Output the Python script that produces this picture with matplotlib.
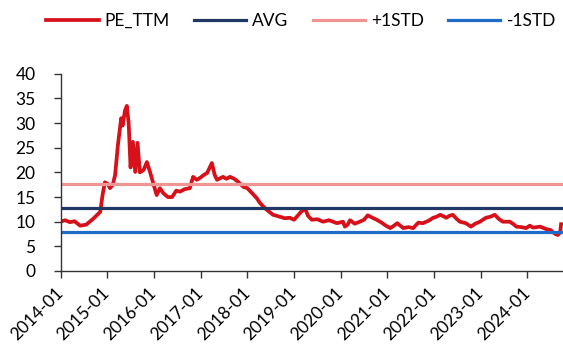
import numpy as np
import matplotlib
matplotlib.use('Agg')
import matplotlib.pyplot as plt
import matplotlib.dates as mdates
from datetime import datetime, timedelta

plt.rcParams['font.family'] = ['Lato', 'DejaVu Sans']

# PE_TTM (decimal year, value)
years = [2014.00, 2014.10, 2014.20, 2014.30, 2014.42, 2014.55, 2014.70, 2014.85, 2014.90, 2014.95,
         2015.02, 2015.06, 2015.12, 2015.17, 2015.23, 2015.30, 2015.33, 2015.38, 2015.42, 2015.46,
         2015.50, 2015.55, 2015.60, 2015.65, 2015.70, 2015.78, 2015.85, 2015.92, 2015.98, 2016.06,
         2016.13, 2016.20, 2016.30, 2016.39, 2016.48, 2016.56, 2016.66, 2016.77, 2016.84, 2016.92,
         2016.99, 2017.07, 2017.14, 2017.24, 2017.30, 2017.35, 2017.48, 2017.55, 2017.63, 2017.72,
         2017.80, 2017.91, 2018.00, 2018.10, 2018.20, 2018.27, 2018.35, 2018.42, 2018.55, 2018.70,
         2018.80, 2018.91, 2019.00, 2019.06, 2019.15, 2019.24, 2019.30, 2019.38, 2019.50, 2019.62,
         2019.75, 2019.92, 2020.05, 2020.09, 2020.15, 2020.20, 2020.30, 2020.41, 2020.50, 2020.58,
         2020.68, 2020.77, 2020.88, 2020.95, 2021.06, 2021.14, 2021.21, 2021.30, 2021.34, 2021.45,
         2021.55, 2021.66, 2021.76, 2021.88, 2021.98, 2022.05, 2022.13, 2022.20, 2022.26, 2022.33,
         2022.40, 2022.48, 2022.55, 2022.68, 2022.79, 2022.88, 2022.98, 2023.11, 2023.20, 2023.30,
         2023.38, 2023.47, 2023.62, 2023.70, 2023.76, 2023.87, 2023.97, 2024.05, 2024.12, 2024.27,
         2024.40, 2024.50, 2024.54, 2024.60, 2024.65, 2024.70, 2024.72]
pe = [10.0, 10.3, 9.9, 10.1, 9.2, 9.4, 10.6, 12.0, 15.4, 18.0,
      17.6, 16.8, 17.5, 19.5, 25.6, 31.0, 29.5, 32.5, 33.5, 30.0,
      21.0, 26.2, 20.1, 26.0, 20.0, 20.5, 22.1, 20.0, 18.0, 15.4,
      16.8, 15.8, 15.0, 15.0, 16.3, 16.1, 16.6, 16.8, 19.1, 18.5,
      18.9, 19.5, 19.9, 21.9, 19.5, 18.5, 19.1, 18.7, 19.1, 18.7,
      18.1, 17.1, 16.8, 15.8, 14.8, 13.8, 13.0, 12.4, 11.4, 11.0,
      10.7, 10.8, 10.4, 11.0, 12.0, 12.6, 11.2, 10.4, 10.5, 10.0,
      10.3, 9.7, 10.0, 9.0, 9.4, 10.3, 9.6, 10.0, 10.4, 11.3,
      10.8, 10.4, 9.8, 9.3, 8.7, 9.2, 9.7, 9.0, 8.7, 8.9,
      8.7, 9.8, 9.7, 10.2, 10.8, 11.0, 11.4, 11.1, 10.8, 11.2,
      11.4, 10.6, 10.0, 9.7, 9.0, 9.6, 10.0, 10.8, 11.0, 11.4,
      10.6, 10.0, 10.0, 9.5, 9.0, 8.9, 8.7, 9.2, 8.8, 9.0,
      8.5, 8.3, 7.9, 7.5, 7.3, 7.8, 9.5]
avg = 12.7
std_up = 17.55
std_dn = 7.85

def to_date(y):
    return datetime(int(y), 1, 1) + timedelta(days=(y % 1) * 365.25)

dates = [to_date(y) for y in years]

fig = plt.figure(figsize=(5.63, 3.49), dpi=100)
ax = fig.add_axes([0.1075, 0.2235, 0.8925, 0.565])

ax.plot(dates, pe, color='#D7101A', lw=2.7, label='PE_TTM', solid_joinstyle='round')
ax.axhline(avg, color='#1F3864', lw=2.3, label='AVG')
ax.axhline(std_up, color='#F09494', lw=2.3, label='+1STD')
ax.axhline(std_dn, color='#1F6CC8', lw=2.3, label='-1STD')

ax.set_ylim(0, 40)
ax.set_yticks(np.arange(0, 41, 5))
ax.set_xlim(datetime(2014, 1, 1), datetime(2024, 10, 5))
ax.xaxis.set_major_locator(mdates.YearLocator())
ax.xaxis.set_major_formatter(mdates.DateFormatter('%Y-%m'))
plt.setp(ax.get_xticklabels(), rotation=45, ha='right', va='center', rotation_mode='anchor')

for s in ['top', 'right']:
    ax.spines[s].set_visible(False)
for s in ['left', 'bottom']:
    ax.spines[s].set_color('#333333')
    ax.spines[s].set_linewidth(1.0)
ax.tick_params(axis='both', direction='out', length=5, width=1.0, color='#333333',
               labelsize=12.5, labelcolor='black')
ax.tick_params(axis='y', pad=13)
ax.tick_params(axis='x', pad=9)

ax.legend(loc='center', bbox_to_anchor=(0.535, 0.94), bbox_transform=fig.transFigure,
          ncol=4, frameon=False, fontsize=12.5, handlelength=3.0, handletextpad=0.35,
          columnspacing=1.4)

fig.savefig('out.png', dpi=100)
